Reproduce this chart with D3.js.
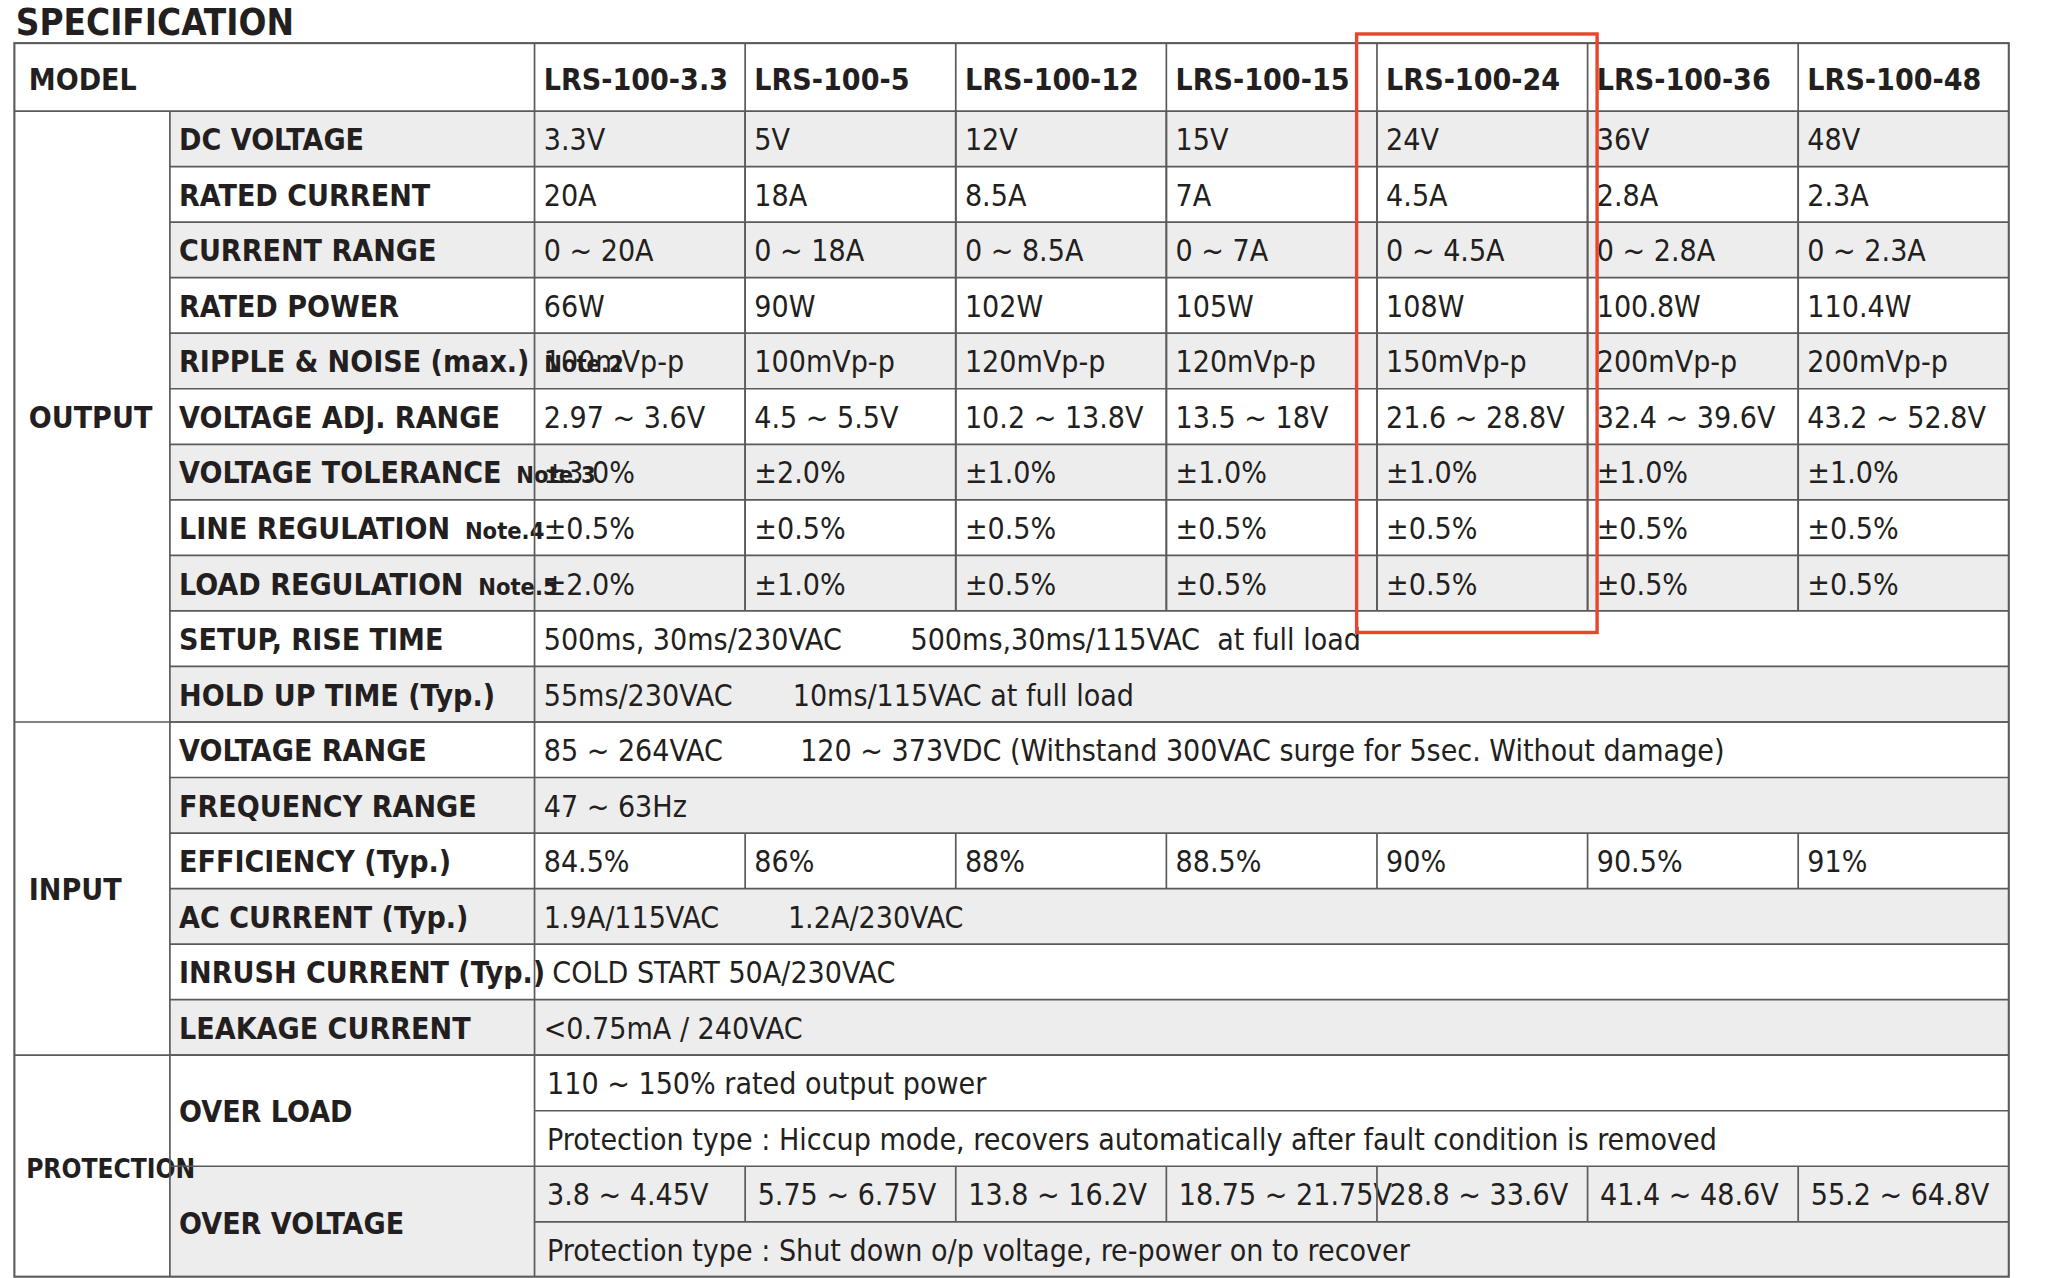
<!DOCTYPE html>
<html><head><meta charset="utf-8">
<script src="https://cdn.jsdelivr.net/npm/d3@7"></script>
<style>body{margin:0;background:#fff}svg text{white-space:pre;font-family:"Liberation Sans Narrow","DejaVu Sans Condensed","Roboto Condensed",sans-serif;fill:#231f20}</style>
</head><body><svg id="c"></svg>
<script>
const models=["LRS-100-3.3","LRS-100-5","LRS-100-12","LRS-100-15","LRS-100-24","LRS-100-36","LRS-100-48"];
const outputRows=[
 ["DC VOLTAGE","",["3.3V","5V","12V","15V","24V","36V","48V"]],
 ["RATED CURRENT","",["20A","18A","8.5A","7A","4.5A","2.8A","2.3A"]],
 ["CURRENT RANGE","",["0 ~ 20A","0 ~ 18A","0 ~ 8.5A","0 ~ 7A","0 ~ 4.5A","0 ~ 2.8A","0 ~ 2.3A"]],
 ["RATED POWER","",["66W","90W","102W","105W","108W","100.8W","110.4W"]],
 ["RIPPLE & NOISE (max.)","Note.2",["100mVp-p","100mVp-p","120mVp-p","120mVp-p","150mVp-p","200mVp-p","200mVp-p"]],
 ["VOLTAGE ADJ. RANGE","",["2.97 ~ 3.6V","4.5 ~ 5.5V","10.2 ~ 13.8V","13.5 ~ 18V","21.6 ~ 28.8V","32.4 ~ 39.6V","43.2 ~ 52.8V"]],
 ["VOLTAGE TOLERANCE","Note.3",["±3.0%","±2.0%","±1.0%","±1.0%","±1.0%","±1.0%","±1.0%"]],
 ["LINE REGULATION","Note.4",["±0.5%","±0.5%","±0.5%","±0.5%","±0.5%","±0.5%","±0.5%"]],
 ["LOAD REGULATION","Note.5",["±2.0%","±1.0%","±0.5%","±0.5%","±0.5%","±0.5%","±0.5%"]],
 ["SETUP, RISE TIME","","500ms, 30ms/230VAC        500ms,30ms/115VAC  at full load"],
 ["HOLD UP TIME (Typ.)","","55ms/230VAC       10ms/115VAC at full load"]];
const inputRows=[
 ["VOLTAGE RANGE","","85 ~ 264VAC         120 ~ 373VDC (Withstand 300VAC surge for 5sec. Without damage)"],
 ["FREQUENCY RANGE","","47 ~ 63Hz"],
 ["EFFICIENCY (Typ.)","",["84.5%","86%","88%","88.5%","90%","90.5%","91%"]],
 ["AC CURRENT (Typ.)","","1.9A/115VAC        1.2A/230VAC"],
 ["INRUSH CURRENT (Typ.)",""," COLD START 50A/230VAC"],
 ["LEAKAGE CURRENT","","<0.75mA / 240VAC"]];
const overLoad=[" 110 ~ 150% rated output power"," Protection type : Hiccup mode, recovers automatically after fault condition is removed"];
const overVoltage=[[" 3.8 ~ 4.45V"," 5.75 ~ 6.75V"," 13.8 ~ 16.2V"," 18.75 ~ 21.75V"," 28.8 ~ 33.6V"," 41.4 ~ 48.6V"," 55.2 ~ 64.8V"]," Protection type : Shut down o/p voltage, re-power on to recover"];

const W=1567,H=978;
const svg=d3.select("#c").attr("width",2048).attr("height",1278).attr("viewBox",`0 0 ${W} ${H}`).attr("preserveAspectRatio","none");
const x0=11,x1=130,x2=409,xr=1537;
const xs=d3.scaleBand().domain(models).range([x2,xr]);
const rh=42.5, ty=33, hdr=52;
const rowY=i=>ty+hdr+i*rh;
const gray="#ededed",line="#5a5a5a";
const allRows=[...outputRows,...inputRows];
const g=svg.append("g");
allRows.forEach((r,i)=>{ if(i%2===0) g.append("rect").attr("x",x1).attr("y",rowY(i)).attr("width",xr-x1).attr("height",rh).attr("fill",gray);});
const pTop=rowY(allRows.length);
g.append("rect").attr("x",x1).attr("y",pTop+2*rh).attr("width",xr-x1).attr("height",2*rh).attr("fill",gray);
const L=(a,b,c,d,w)=>g.append("line").attr("x1",a).attr("y1",b).attr("x2",c).attr("y2",d).attr("stroke",line).attr("stroke-width",w||1.3);
const T=(x,y,s,o={})=>g.append("text").attr("x",x).attr("y",y).attr("font-size",o.fs||23).attr("font-weight",o.b?"bold":"normal").text(s);
T(12,27,"SPECIFICATION",{b:1,fs:28});
T(22,ty+36,"MODEL",{b:1,fs:23});
models.forEach(m=>T(xs(m)+7,ty+36,m,{b:1,fs:23}));
function drawRow(r,i){
  const y=rowY(i);
  const t=T(137,y+30,r[0],{b:1});
  if(r[1]) t.append("tspan").attr("font-size",18).text("  "+r[1]);
  if(Array.isArray(r[2])){ models.forEach((m,j)=>{T(xs(m)+7,y+30,r[2][j]); if(j>0)L(xs(m),y,xs(m),y+rh);}); }
  else T(416,y+30,r[2]);
  L(x1,y+rh,xr,y+rh);
}
allRows.forEach(drawRow);
models.forEach((m,j)=>{ if(j>0) L(xs(m),ty,xs(m),rowY(9)); });
const outEnd=rowY(outputRows.length), inEnd=rowY(allRows.length), end=H-1;
T(22,(ty+hdr+outEnd)/2+9,"OUTPUT",{b:1});
T(22,(outEnd+inEnd)/2+9,"INPUT",{b:1});
T(20,(inEnd+end)/2+9,"PROTECTION",{b:1,fs:20});
T(137,pTop+rh+9,"OVER LOAD",{b:1});
T(137,pTop+3*rh+9,"OVER VOLTAGE",{b:1});
T(412,pTop+30,overLoad[0]); T(412,pTop+rh+30,overLoad[1]);
models.forEach((m,j)=>{T(xs(m)+3,pTop+2*rh+30,overVoltage[0][j]); if(j>0)L(xs(m),pTop+2*rh,xs(m),pTop+3*rh);});
T(412,pTop+3*rh+30,overVoltage[1]);
L(x2,pTop+rh,xr,pTop+rh); L(x1,pTop+2*rh,xr,pTop+2*rh); L(x2,pTop+3*rh,xr,pTop+3*rh);
L(x0,ty+hdr,xr,ty+hdr); L(x0,outEnd,xr,outEnd); L(x0,inEnd,xr,inEnd);
L(x1,ty+hdr,x1,end); L(x2,ty,x2,end);
g.append("rect").attr("x",x0).attr("y",ty).attr("width",xr-x0).attr("height",end-ty).attr("fill","none").attr("stroke",line).attr("stroke-width",1.6);
g.append("rect").attr("x",1038).attr("y",26).attr("width",184).attr("height",458).attr("fill","none").attr("stroke","#e8452c").attr("stroke-width",2.6);
</script></body></html>
